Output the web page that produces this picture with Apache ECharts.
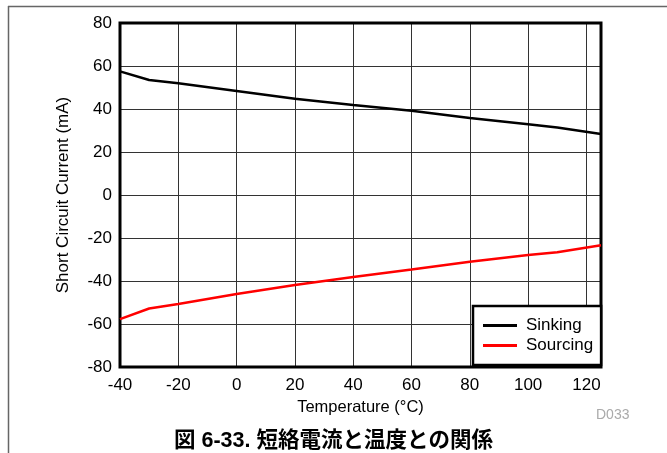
<!DOCTYPE html>
<html>
<head>
<meta charset="utf-8">
<script src="https://cdn.jsdelivr.net/npm/echarts@6/dist/echarts.min.js"></script>
<style>
html,body{margin:0;padding:0;background:#fff;}
#chart{width:667px;height:453px;}
</style>
</head>
<body>
<div id="chart"></div>
<script>
const temperatures = [-40, -30, -20, 0, 20, 40, 60, 80, 100, 110, 125];
const sinking = [57.5, 53.5, 52, 48.4, 44.8, 41.9, 39.2, 35.8, 32.9, 31.4, 28.4];
const sourcing = [-57.7, -52.8, -50.7, -46, -41.9, -38.1, -34.6, -31, -27.9, -26.6, -23.4];
const seriesNames = ['Sinking', 'Sourcing'];
const xAxisTitle = 'Temperature (°C)';
const yAxisTitle = 'Short Circuit Current (mA)';
const captionText = '図 6-33. 短絡電流と温度との関係';
const codeText = 'D033';

const pair = (xs, ys) => xs.map((x, i) => [x, ys[i]]);
const font = '"Liberation Sans", Arial, sans-serif';

const chart = echarts.init(document.getElementById('chart'), null, {renderer: 'canvas'});
chart.setOption({
  animation: false,
  backgroundColor: '#fff',
  grid: {left: 120, right: 66, top: 23, bottom: 86, show: true, borderColor: '#000', borderWidth: 3, z: 3},
  xAxis: {
    type: 'value', min: -40, max: 125, interval: 20,
    name: xAxisTitle, nameLocation: 'middle', nameGap: 31,
    nameTextStyle: {fontFamily: font, fontSize: 16.5, color: '#000'},
    axisLine: {show: false}, axisTick: {show: false},
    axisLabel: {fontFamily: font, fontSize: 17, color: '#000', margin: 10, showMaxLabel: false,
      formatter: v => (v === 125 ? '' : String(v))},
    splitLine: {show: true, lineStyle: {color: '#333', width: 1}}
  },
  yAxis: {
    type: 'value', min: -80, max: 80, interval: 20,
    name: yAxisTitle, nameLocation: 'middle', nameGap: 48,
    nameTextStyle: {fontFamily: font, fontSize: 17, color: '#000'},
    axisLine: {show: false}, axisTick: {show: false},
    axisLabel: {fontFamily: font, fontSize: 17, color: '#000', margin: 8},
    splitLine: {show: true, lineStyle: {color: '#333', width: 1}}
  },
  legend: {
    data: seriesNames, orient: 'vertical', left: 473, top: 306,
    backgroundColor: '#fff', borderColor: '#000', borderWidth: 2.5,
    padding: [11, 8, 11, 10], itemGap: 3, itemWidth: 34, itemHeight: 3,
    icon: 'rect',
    textStyle: {fontFamily: font, fontSize: 17, color: '#000', padding: [0, 0, 0, 4]},
    z: 10
  },
  series: [
    {name: seriesNames[0], type: 'line', data: pair(temperatures, sinking), symbol: 'none',
     lineStyle: {color: '#000', width: 2.5}, itemStyle: {color: '#000'}, z: 5},
    {name: seriesNames[1], type: 'line', data: pair(temperatures, sourcing), symbol: 'none',
     lineStyle: {color: '#ff0000', width: 2.5}, itemStyle: {color: '#ff0000'}, z: 5}
  ],
  graphic: [
    {type: 'line', shape: {x1: 8.5, y1: 6, x2: 8.5, y2: 453}, style: {stroke: '#666', lineWidth: 1.5}},
    {type: 'line', shape: {x1: 8, y1: 6.5, x2: 667, y2: 6.5}, style: {stroke: '#666', lineWidth: 1.5}},
    {type: 'text', left: 596, top: 408, style: {text: codeText, font: '14px ' + font, fill: '#aaa'}},
    {type: 'text', left: 'center', top: 430, style: {text: captionText, fill: '#000',
      font: 'bold 21.5px "Liberation Sans", "Noto Sans CJK JP", sans-serif'}}
  ]
});
</script>
</body>
</html>
